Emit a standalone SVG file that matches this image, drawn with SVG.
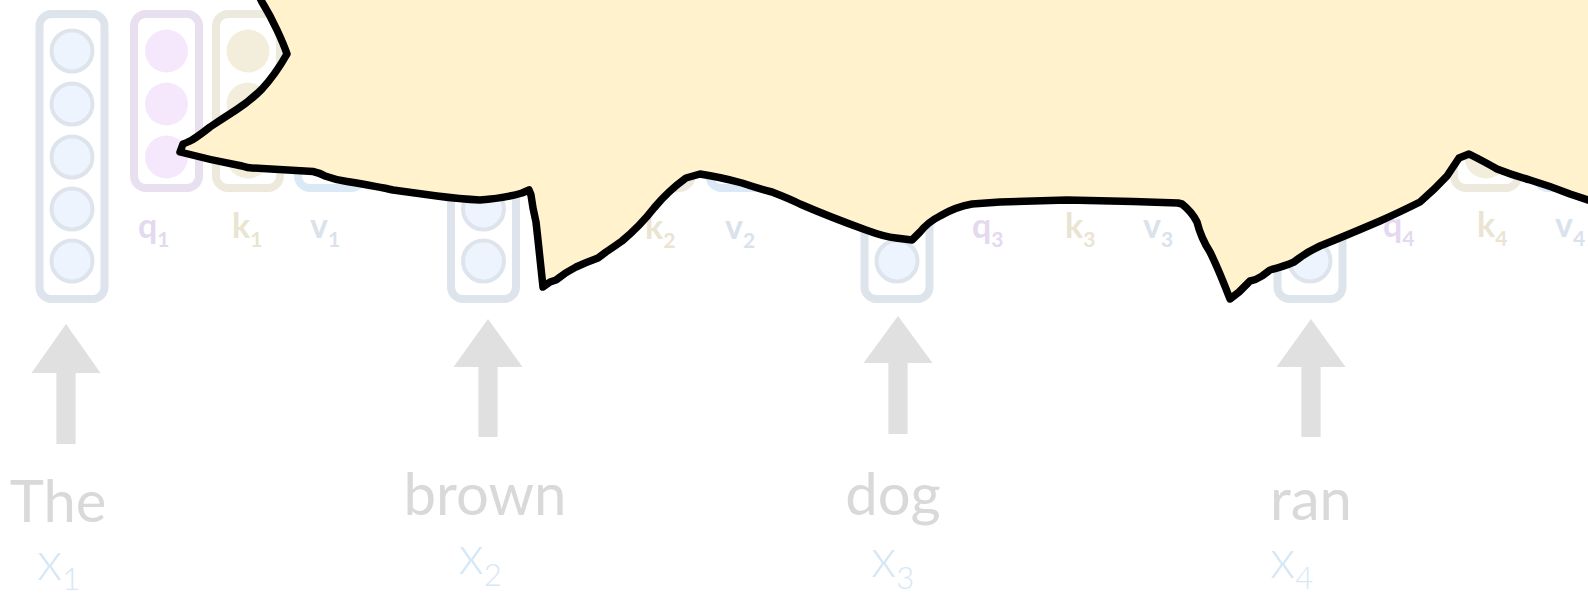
<svg xmlns="http://www.w3.org/2000/svg" width="1588" height="596" viewBox="0 0 1588 596">
<style>
.mbox{fill:none;stroke:#dee4ec;stroke-width:8}
.mcirc{fill:#eef4fd;stroke:#dee4ec;stroke-width:4}
.qbox{fill:none;stroke:#e8dfef;stroke-width:8}
.qcirc{fill:#f5e8fd}
.kbox{fill:none;stroke:#ede9dc;stroke-width:8}
.kcirc{fill:#f3eedb}
.vbox{fill:none;stroke:#dbe9f6;stroke-width:8}
.vcirc{fill:#e9f2fc}
.lab{font-family:Lato,"Open Sans","Liberation Sans",sans-serif;font-weight:700;font-size:34px}
.lq{fill:#e4d9ef}
.lk{fill:#eae4d2}
.lv{fill:#dae2ec}
.sub{font-size:21px}
.word{font-family:Lato,"Open Sans","Liberation Sans",sans-serif;font-weight:400;font-size:58px;fill:#d9d9d9;text-anchor:middle}
.xl{font-family:Lato,"Open Sans","Liberation Sans",sans-serif;font-weight:300;font-size:54px;fill:#d6e7f6}
.xsub{font-size:31px}
.arrow{fill:#e0e0e0}
.callout{fill:#fff2cc;stroke:#000;stroke-width:7.5;stroke-linejoin:round}
</style>
<defs>
<g id="tokenCol">
<rect class="mbox" x="-32.5" y="14" width="65" height="285" rx="12"/>
<circle class="mcirc" cx="0" cy="51" r="20.5"/>
<circle class="mcirc" cx="0" cy="104" r="20.5"/>
<circle class="mcirc" cx="0" cy="157" r="20.5"/>
<circle class="mcirc" cx="0" cy="209" r="20.5"/>
<circle class="mcirc" cx="0" cy="261" r="20.5"/>
</g>
<g id="qkv">
<rect class="qbox" x="62" y="14" width="65" height="174" rx="12"/>
<circle class="qcirc" cx="94.5" cy="51" r="21.5"/>
<circle class="qcirc" cx="94.5" cy="104" r="21.5"/>
<circle class="qcirc" cx="94.5" cy="157" r="21.5"/>
<rect class="kbox" x="144" y="14" width="64" height="174" rx="12"/>
<circle class="kcirc" cx="176" cy="51" r="21.5"/>
<circle class="kcirc" cx="176" cy="104" r="21.5"/>
<circle class="kcirc" cx="176" cy="157" r="21.5"/>
<rect class="vbox" x="226" y="14" width="65" height="174" rx="12"/>
<circle class="vcirc" cx="258.5" cy="51" r="21.5"/>
<circle class="vcirc" cx="258.5" cy="104" r="21.5"/>
<circle class="vcirc" cx="258.5" cy="157" r="21.5"/>
</g>
</defs>

<g id="node-the" transform="translate(72,0)">
<use href="#tokenCol"/>
<use href="#qkv"/>
<text class="lab lq" x="66" y="238">q<tspan class="sub" dy="9">1</tspan></text>
<text class="lab lk" x="160" y="238">k<tspan class="sub" dy="9">1</tspan></text>
<text class="lab lv" x="238" y="238">v<tspan class="sub" dy="9">1</tspan></text>
<text class="word" x="-14" y="522">The</text>
<text class="xl" x="-35" y="580">x<tspan class="xsub" dy="10">1</tspan></text>
</g>

<g id="node-brown" transform="translate(483.5,0)">
<use href="#tokenCol"/>
<use href="#qkv"/>
<text class="lab lk" x="161.5" y="239">k<tspan class="sub" dy="9">2</tspan></text>
<text class="lab lv" x="241.5" y="239">v<tspan class="sub" dy="9">2</tspan></text>
<text class="word" x="1.5" y="515">brown</text>
<text class="xl" x="-25" y="574">x<tspan class="xsub" dy="12">2</tspan></text>
</g>

<g id="node-dog" transform="translate(897,0)">
<use href="#tokenCol"/>
<use href="#qkv"/>
<text class="lab lq" x="75" y="238">q<tspan class="sub" dy="9">3</tspan></text>
<text class="lab lk" x="168" y="238">k<tspan class="sub" dy="9">3</tspan></text>
<text class="lab lv" x="246" y="238">v<tspan class="sub" dy="9">3</tspan></text>
<text class="word" x="-4" y="515">dog</text>
<text class="xl" x="-26" y="577">x<tspan class="xsub" dy="12">3</tspan></text>
</g>

<g id="node-ran" transform="translate(1310,0)">
<use href="#tokenCol"/>
<use href="#qkv"/>
<text class="lab lq" x="73" y="237">q<tspan class="sub" dy="9">4</tspan></text>
<text class="lab lk" x="167" y="237">k<tspan class="sub" dy="9">4</tspan></text>
<text class="lab lv" x="245" y="237">v<tspan class="sub" dy="9">4</tspan></text>
<text class="word" x="1" y="520">ran</text>
<text class="xl" x="-40" y="578">x<tspan class="xsub" dy="11">4</tspan></text>
</g>

<g id="connectors">
<polygon class="arrow" points="66,324 100.5,373 75.6,373 75.6,444 56.4,444 56.4,373 31.5,373"/>
<polygon class="arrow" points="488,319 522.5,367 497.6,367 497.6,437 478.4,437 478.4,367 453.5,367"/>
<polygon class="arrow" points="898,316 932.5,363 907.6,363 907.6,434 888.4,434 888.4,363 863.5,363"/>
<polygon class="arrow" points="1311,319 1345.5,367 1320.6,367 1320.6,437 1301.4,437 1301.4,367 1276.5,367"/>
</g>

<g id="callout">
<path class="callout" d="M 256,-10 L 262,2 Q 270,15 277,30 Q 284,45 287,54 Q 275,75 262,89 Q 250,101 236,110 Q 222,119 210,127 Q 200,135 192,140 Q 186,143 183,144 L 180,152 Q 210,160 242,166 Q 248,168 252,168 L 313,171.5 Q 320,173 325,176 Q 336,180 347,181.5 Q 380,187 393,190 L 437,196 Q 460,199 480,200 Q 505,198 522,193 L 529,190 L 531,195 L 533,208 L 536,222 L 538,240 L 543,287 L 550,282 L 556,280 Q 566,272 576,267 Q 587,262 598,258 L 606,252 Q 615,246 622,241 Q 640,226 654,208 Q 668,191 686,178 L 700,174 Q 720,177 742,183 Q 760,189 772,192 Q 790,199 800,204 Q 830,217 866,230 Q 885,237 896,238 L 912,240 L 920,232 Q 928,222 940,216 Q 955,207 972,204 L 1000,202 L 1067,200 L 1133,201.5 L 1178,203 L 1182,204 Q 1192,212 1197,222 Q 1201,238 1210,252 Q 1218,268 1230,299 L 1239,292 L 1250,281 Q 1256,280 1262,276 L 1270,270 Q 1285,266 1294,262 Q 1305,253 1320,246 Q 1345,236 1380,221 Q 1402,211 1420,202 Q 1435,189 1447,176 L 1459,158 L 1469,154 Q 1485,162 1497,169 Q 1512,175 1530,180 Q 1550,186 1570,194 L 1600,204 L 1600,-10 Z"/>
</g>
</svg>
